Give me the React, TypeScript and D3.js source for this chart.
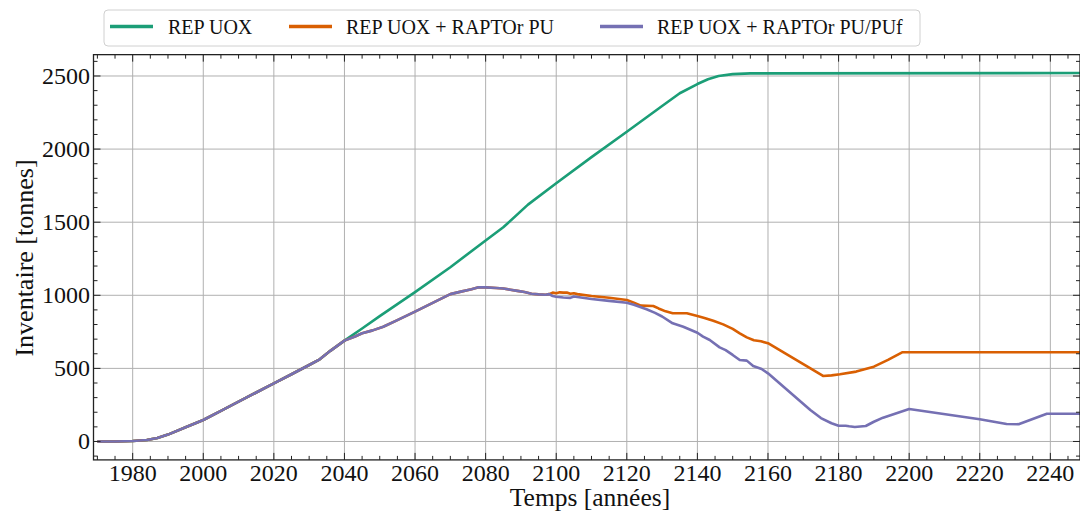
import React from 'react';
import * as d3 from 'd3';

const W = 1080;
const H = 516;
const FONT = '"Liberation Serif", "Times New Roman", serif';

// shared start (all scenarios identical until ~2040)
const baseYears = [1970, 1975, 1980, 1984, 1987, 1990, 1995, 2000, 2005, 2010, 2015, 2020, 2025, 2030, 2033, 2036, 2040];
const baseValues = [0, 0, 3, 10, 24, 47, 97, 147, 210, 272, 335, 398, 460, 523, 562, 620, 690];

// REP UOX continuation
const uoxYears = [2045, 2050, 2060, 2070, 2080, 2085, 2092, 2100, 2110, 2120, 2130, 2135, 2140, 2143, 2146, 2150, 2155, 2250];
const uoxValues = [773, 857, 1022, 1192, 1375, 1465, 1620, 1766, 1945, 2119, 2295, 2382, 2445, 2478, 2500, 2513, 2518, 2520];

// shared part of the two RAPTOr scenarios
const puSharedYears = [2043, 2045, 2048, 2051, 2055, 2060, 2065, 2070, 2073, 2076, 2078, 2080, 2083, 2085, 2087, 2089, 2091, 2093, 2095, 2097, 2098];
const puSharedValues = [718, 740, 760, 785, 830, 888, 948, 1008, 1025, 1042, 1055, 1054, 1050, 1046, 1038, 1030, 1022, 1010, 1006, 1004, 1008];

// REP UOX + RAPTOr PU continuation
const puYears = [2099, 2100, 2101, 2102, 2103, 2104, 2105, 2106, 2110, 2115, 2120, 2122, 2124, 2127.5, 2129, 2131, 2133, 2137, 2140, 2142, 2144.5, 2147.3, 2150, 2152, 2154, 2156, 2158, 2160, 2175.6, 2178, 2180.4, 2185, 2190, 2194, 2198, 2250];
const puValues = [1018, 1014, 1020, 1018, 1019, 1010, 1014, 1008, 995, 983, 968, 950, 929, 927, 910, 890, 877, 877, 858, 845, 826, 801, 770, 740, 712, 692, 685, 672, 448, 452, 460, 478, 512, 558, 610, 610];

// REP UOX + RAPTOr PU/PUf continuation
const pufYears = [2099, 2100, 2102, 2104, 2105, 2106, 2110, 2115, 2120, 2122, 2125.6, 2128, 2130, 2133, 2136, 2140, 2141.6, 2143.5, 2146.3, 2148, 2150, 2152, 2154, 2155.8, 2158.2, 2160, 2172, 2175, 2178, 2180, 2182, 2183, 2184.6, 2187.7, 2190, 2192.6, 2200, 2220, 2227.6, 2231, 2239, 2250];
const pufValues = [995, 990, 985, 982, 992, 988, 975, 962, 949, 935, 904, 880, 855, 808, 785, 744, 717, 694, 644, 625, 592, 557, 553, 516, 496, 466, 215, 160, 125, 108, 108, 104, 99, 106, 135, 163, 222, 152, 120, 118, 190, 190];

const seriesNames = ['REP UOX', 'REP UOX + RAPTOr PU', 'REP UOX + RAPTOr PU/PUf'];
const seriesColors = ['#1b9e77', '#d95f02', '#7570b3'];

const xMajorTicks = [1980, 2000, 2020, 2040, 2060, 2080, 2100, 2120, 2140, 2160, 2180, 2200, 2220, 2240];
const yMajorTicks = [0, 500, 1000, 1500, 2000, 2500];

const zip = (ys: number[], vs: number[]) => ys.map((yr, i) => [yr, vs[i]] as [number, number]);

export default function App() {
  const left = 93.5, right = 1080, top = 54.65, bottom = 459.9;
  const x = d3.scaleLinear().domain([1968.9, 2248.4]).range([left, right]);
  const y = d3.scaleLinear().domain([-126, 2646]).range([bottom, top]);
  const line = d3.line<[number, number]>().x(d => x(d[0])).y(d => y(d[1]));

  const data = [
    [...zip(baseYears, baseValues), ...zip(uoxYears, uoxValues)],
    [...zip(baseYears, baseValues), ...zip(puSharedYears, puSharedValues), ...zip(puYears, puValues)],
    [...zip(baseYears, baseValues), ...zip(puSharedYears, puSharedValues), ...zip(pufYears, pufValues)],
  ];

  const xMinor = d3.range(1970, 2249, 5).filter(v => v % 20 !== 0);
  const yMinor = d3.range(-100, 2647, 100).filter(v => v % 500 !== 0);

  const legendLines = [[110, 153], [289, 332], [600, 643]];
  const legendText = [168, 346, 657];

  return (
    <svg width={W} height={H} style={{ position: 'absolute', left: 0, top: 0, background: '#fff' }} fontFamily={FONT}>
      <defs>
        <clipPath id="plot">
          <rect x={left} y={top} width={right - left} height={bottom - top} />
        </clipPath>
      </defs>
      <rect x={0} y={0} width={W} height={H} fill="#fff" />
      {/* grid */}
      <g stroke="#b0b0b0" strokeWidth={1}>
        {xMajorTicks.map(t => <line key={'gx' + t} x1={x(t)} x2={x(t)} y1={top} y2={bottom} />)}
        {yMajorTicks.map(t => <line key={'gy' + t} x1={left} x2={right} y1={y(t)} y2={y(t)} />)}
      </g>
      {/* lines */}
      <g clipPath="url(#plot)" fill="none" strokeWidth={2.6} strokeLinejoin="round" strokeLinecap="butt">
        {data.map((d, i) => <path key={i} d={line(d) || ''} stroke={seriesColors[i]} />)}
      </g>
      {/* ticks */}
      <g stroke="#222" strokeWidth={1}>
        {xMajorTicks.map(t => (
          <g key={'tx' + t}>
            <line x1={x(t)} x2={x(t)} y1={bottom} y2={bottom - 7} />
            <line x1={x(t)} x2={x(t)} y1={top} y2={top + 7} />
          </g>
        ))}
        {xMinor.map(t => (
          <g key={'mx' + t}>
            <line x1={x(t)} x2={x(t)} y1={bottom} y2={bottom - 4} />
            <line x1={x(t)} x2={x(t)} y1={top} y2={top + 4} />
          </g>
        ))}
        {yMajorTicks.map(t => (
          <g key={'ty' + t}>
            <line x1={left} x2={left + 7} y1={y(t)} y2={y(t)} />
            <line x1={right} x2={right - 7} y1={y(t)} y2={y(t)} />
          </g>
        ))}
        {yMinor.map(t => (
          <g key={'my' + t}>
            <line x1={left} x2={left + 4} y1={y(t)} y2={y(t)} />
            <line x1={right} x2={right - 4} y1={y(t)} y2={y(t)} />
          </g>
        ))}
      </g>
      {/* spines */}
      <rect x={left} y={top} width={right - left} height={bottom - top} fill="none" stroke="#222" strokeWidth={1.3} />
      {/* tick labels */}
      <g fontSize={24} fill="#111">
        {xMajorTicks.map(t => (
          <text key={'lx' + t} x={x(t)} y={480.5} textAnchor="middle">{t}</text>
        ))}
        {yMajorTicks.map(t => (
          <text key={'ly' + t} x={90} y={y(t) + 8} textAnchor="end">{t}</text>
        ))}
      </g>
      {/* axis labels */}
      <text x={590} y={506} fontSize={25.5} textAnchor="middle" fill="#111">Temps [années]</text>
      <text transform="translate(33,258) rotate(-90)" fontSize={26} textAnchor="middle" fill="#111">Inventaire [tonnes]</text>
      {/* legend */}
      <rect x={104} y={10} width={816} height={36} rx={4} fill="#fff" fillOpacity={0.8} stroke="#d0d0d0" strokeWidth={1} />
      {seriesNames.map((n, i) => (
        <g key={n}>
          <line x1={legendLines[i][0]} x2={legendLines[i][1]} y1={26.5} y2={26.5} stroke={seriesColors[i]} strokeWidth={3.5} />
          <text x={legendText[i]} y={33.5} fontSize={20} fill="#111">{n}</text>
        </g>
      ))}
    </svg>
  );
}
